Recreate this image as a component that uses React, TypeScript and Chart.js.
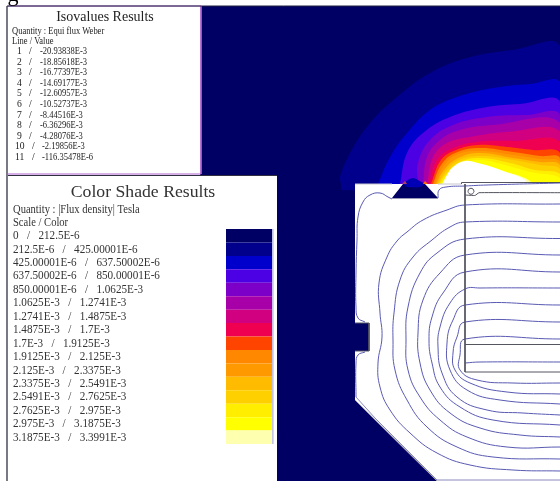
import React, { useEffect, useRef } from "react";
import { Chart, registerables } from "chart.js";

Chart.register(...registerables);

type Pt = [number, number];

const isoTitle = "Isovalues Results";
const isoHeader = ["Quantity : Equi flux Weber", "Line / Value"];
const isoLines = ["1", "2", "3", "4", "5", "6", "7", "8", "9", "10", "11"];
const isoValues = ["-20.93838E-3", "-18.85618E-3", "-16.77397E-3", "-14.69177E-3", "-12.60957E-3", "-10.52737E-3", "-8.44516E-3", "-6.36296E-3", "-4.28076E-3", "-2.19856E-3", "-116.35478E-6"];
const shadeTitle = "Color Shade Results";
const shadeHeader = ["Quantity : |Flux density| Tesla", "Scale / Color"];
const shadeRanges = ["0   /   212.5E-6", "212.5E-6   /   425.00001E-6", "425.00001E-6   /   637.50002E-6", "637.50002E-6   /   850.00001E-6", "850.00001E-6   /   1.0625E-3", "1.0625E-3   /   1.2741E-3", "1.2741E-3   /   1.4875E-3", "1.4875E-3   /   1.7E-3", "1.7E-3   /   1.9125E-3", "1.9125E-3   /   2.125E-3", "2.125E-3   /   2.3375E-3", "2.3375E-3   /   2.5491E-3", "2.5491E-3   /   2.7625E-3", "2.7625E-3   /   2.975E-3", "2.975E-3   /   3.1875E-3", "3.1875E-3   /   3.3991E-3"];
const shadeColors = ["#000064", "#00008c", "#0000cc", "#4c00e4", "#7c00c8", "#a800a8", "#d00080", "#f00050", "#ff4400", "#ff8800", "#ff9900", "#ffbb00", "#ffd000", "#ffee00", "#ffff00", "#ffffb0"];

// Upper edge of each flux-density band, from its foot on the yoke to the right-hand side
const band02: Pt[] = [[341, 184], [340, 177], [350, 153], [370, 123], [397, 97], [430, 73], [467, 58], [513, 50], [560, 47]];
const band03: Pt[] = [[378, 184], [390, 157], [407, 133], [430, 110], [457, 97], [493, 88], [530, 84], [560, 83]];
const band04: Pt[] = [[400, 184], [407, 153], [423, 133], [450, 117], [487, 107], [520, 104], [560, 102]];
const band05: Pt[] = [[418, 184], [418, 163], [430, 140], [453, 125], [487, 117], [527, 115], [560, 115]];
const band06: Pt[] = [[423, 184], [427, 157], [440, 140], [460, 130], [493, 125], [560, 123]];
const band07: Pt[] = [[427, 184], [433, 157], [447, 143], [470, 137], [507, 132], [560, 132]];
const band08: Pt[] = [[429, 184], [437, 160], [453, 148], [477, 142], [513, 141], [560, 142]];
const band09: Pt[] = [[431, 184], [441, 160], [456, 150], [478, 145], [507, 147], [533, 150], [560, 153]];
const band10: Pt[] = [[433, 184], [441, 165], [455, 153], [480, 148], [513, 152], [540, 156], [560, 158]];
const band11: Pt[] = [[434.5, 184], [443, 167], [456, 155], [480, 151], [513, 155], [540, 159], [560, 162]];
const band12: Pt[] = [[436, 184], [444, 170], [458, 158], [480, 153], [513, 158], [540, 162], [560, 165]];
const band13: Pt[] = [[437.5, 184], [446, 171], [459, 160], [480, 156], [513, 160], [540, 165], [560, 169]];
const band14: Pt[] = [[439, 184], [447, 173], [460, 162], [480, 158], [510, 163], [535, 170], [560, 174]];
const band15: Pt[] = [[441, 184], [448, 175], [462, 164], [480, 160], [505, 165], [530, 172], [560, 178]];
const band16: Pt[] = [[442, 184], [446, 177], [454, 168], [466, 162], [480, 164], [495, 168], [510, 173], [525, 178], [535, 184]];
const coreWhite: Pt[] = [[443, 184], [447, 175], [453, 167], [465, 161], [478, 163], [492, 167], [505, 172], [515, 175], [525, 180], [528, 184]];
const bandEdges = [band02, band03, band04, band05, band06, band07, band08, band09, band10, band11, band12, band13, band14, band15];

// Machine geometry
const frameOutline: Pt[] = [[355, 184], [461.5, 184], [461.5, 182], [560, 182], [560, 481], [437, 481], [355, 400], [355, 351], [369, 351], [369, 323], [355, 323]];
const frameNotch: Pt[] = [[355, 323], [369, 323], [369, 351], [355, 351]];
const frameChamfer: Pt[] = [[355, 400], [437, 481]];
const frameTop: Pt[] = [[355, 184], [392, 184]];
const frameTopB: Pt[] = [[438, 184], [461.5, 184]];
const poleSlot: Pt[] = [[392, 198], [403, 184], [425, 184], [438, 198]];
const poleBlob: Pt[] = [[403, 184], [408, 180], [413, 178], [418, 180], [424, 184], [420, 187], [407, 187]];
const coilEdgeA: Pt[] = [[461.5, 184], [461.5, 182.5], [560, 182.5]];
const coilEdgeB: Pt[] = [[465, 184], [465, 372], [560, 372]];
const coilEdgeC: Pt[] = [[465, 344.5], [560, 344.5]];
const coilHook: Pt[] = [[465, 195], [475, 195.5], [479, 192.7], [560, 192.7]];
const coilHole: Pt[] = [[474, 191.3], [473, 189], [471, 188.3], [469, 189], [468, 191.3], [469, 193.5], [471, 194.3], [473, 193.5], [474, 191.3]];

// Equi-flux lines
const iso01: Pt[] = [[560, 183], [487, 185], [465, 186], [446, 187], [439, 190], [438, 198]];
const iso01a: Pt[] = [[392, 199], [388, 197], [380, 193], [370, 195], [363, 202], [358, 217], [357, 240], [356, 273], [356, 307], [358, 318], [365, 322]];
const iso01b: Pt[] = [[365, 352], [358, 355], [356, 363], [356, 397]];
const iso01c: Pt[] = [[356, 397], [375, 418], [437, 480], [560, 480]];
const iso02: Pt[] = [[560, 204], [465, 205], [447, 210], [423, 220], [407, 232], [397, 241], [387, 257], [379, 283], [380, 313], [382, 337], [378, 363], [380, 387], [390, 410], [410, 433], [437, 453], [470, 465], [513, 470], [560, 471]];
const iso03: Pt[] = [[560, 222], [465, 222], [450, 227], [432, 240], [413, 257], [400, 280], [394, 313], [393, 340], [395, 370], [407, 400], [427, 427], [457, 447], [493, 457], [560, 459]];
const iso04: Pt[] = [[560, 238.5], [465, 239], [437, 253], [420, 273], [408, 307], [406, 340], [408, 370], [420, 397], [440, 420], [467, 437], [507, 447], [560, 447]];
const iso05: Pt[] = [[560, 255], [465, 255], [440, 273], [423, 300], [418, 333], [420, 363], [430, 390], [450, 413], [480, 428], [520, 435], [560, 437]];
const iso06: Pt[] = [[560, 272], [465, 272], [443, 293], [432, 317], [429, 340], [432, 363], [440, 387], [460, 407], [493, 420], [560, 425]];
const iso07: Pt[] = [[560, 288], [480, 288], [465, 289], [450, 303], [440, 327], [438, 347], [442, 373], [457, 397], [487, 410], [523, 413], [560, 415]];
const iso08: Pt[] = [[560, 305], [465, 305], [453, 320], [447, 343], [450, 370], [467, 390], [500, 400], [560, 404]];
const iso09: Pt[] = [[560, 322], [465, 322], [457, 337], [453, 353], [455, 370], [470, 383], [507, 392], [560, 394]];
const iso10: Pt[] = [[560, 339], [465, 339], [460, 355], [460, 370], [477, 380], [513, 383], [560, 383]];
const iso11: Pt[] = [[560, 362], [480, 362], [465, 363]];
const isoCurves = [iso01, iso01a, iso01b, iso02, iso03, iso04, iso05, iso06, iso07, iso08, iso09, iso10, iso11];

const NAVY = "#000064";
const ISO_COLOR = "#5a5ab4";
const EDGE = "#555560";

const box = (x0: number, y0: number, x1: number, y1: number): Pt[] => [[x0, y0], [x1, y0], [x1, y1], [x0, y1]];
const xy = (pts: Pt[]) => pts.map(([x, y]) => ({ x, y }));
const area = (pts: Pt[], color: string, tension = 0, border = "transparent") => ({
  type: "scatter", showLine: true, data: xy(pts), fill: "shape", backgroundColor: color,
  borderColor: border, borderWidth: border === "transparent" ? 0 : 1, pointRadius: 0, tension,
});
const stroke = (pts: Pt[], color: string, tension = 0, width = 1) => ({
  type: "scatter", showLine: true, data: xy(pts), fill: false, borderColor: color,
  borderWidth: width, pointRadius: 0, tension,
});
const band = (edge: Pt[], color: string) => area([...edge, [560, 190], [edge[0][0], 190]], color, 0.4);

const panelText = {
  id: "panelText",
  afterDatasetsDraw(chart: any) {
    const c = chart.ctx;
    const px = (v: number) => chart.scales.x.getPixelForValue(v);
    const py = (v: number) => chart.scales.y.getPixelForValue(v);
    const put = (s: string, x: number, y: number, size: number, squeeze = 1, align: CanvasTextAlign = "left", color = "#222222") => {
      c.font = `${size}px "Liberation Serif"`;
      c.textAlign = align;
      c.textBaseline = "middle";
      c.fillStyle = color;
      c.fillText(s, px(x), py(y), c.measureText(s).width * squeeze);
    };
    c.save();
    put("g", 13, -4.5, 22, 1, "center", "#000000");
    put(isoTitle, 105, 17, 14, 1, "center");
    isoHeader.forEach((s, i) => put(s, 12, 31 + i * 10.4, 9.6, 0.885));
    isoLines.forEach((s, i) => {
      const wide = s.length > 1;
      const y = 51.7 + i * 10.56;
      put(s, wide ? 15 : 17, y, 9.6);
      put("/", wide ? 32 : 29, y, 9.6);
      put(isoValues[i], wide ? 42 : 40, y, 9.6, 0.887);
    });
    put(shadeTitle, 143, 192, 17.7, 1, "center", "#333333");
    shadeHeader.forEach((s, i) => put(s, 13, 210 + i * 13, 12, 0.88, "left", "#333333"));
    shadeRanges.forEach((s, i) => put(s, 13, 236 + i * 13.44, 12, 0.93, "left", "#333333"));
    c.restore();
  },
};

export default function App() {
  const ref = useRef<HTMLCanvasElement>(null);
  useEffect(() => {
    const painted: any[] = [
      area(box(200, 6, 560, 481), NAVY),
      ...bandEdges.map((e, i) => band(e, shadeColors[i + 1])),
      band(band16, shadeColors[15]),
      band(coreWhite, "#ffffff"),
      area(frameOutline, "#ffffff"),
      stroke(frameTop, "#c8c8d0"),
      stroke(frameTopB, "#c8c8d0"),
      stroke(frameNotch, EDGE),
      stroke(frameChamfer, "#9a9aa4"),
      area(poleSlot, NAVY),
      stroke([[392, 198.5], [438, 198.5]], "#9a9ab8"),
      area(poleBlob, "#0000b4", 0.3),
      area([[402, 184], [405, 181], [407, 184]], "#b04060"),
      area([[423, 184], [425, 181], [428, 184]], "#ff7000"),
      ...isoCurves.map((p) => stroke(p, ISO_COLOR, 0.45)),
      stroke(iso01c, "#8a8ac0"),
      stroke(coilEdgeA, EDGE),
      stroke(coilEdgeB, EDGE),
      stroke(coilEdgeC, EDGE),
      stroke(coilHook, EDGE, 0.1),
      stroke(coilHole, EDGE, 0.3),
      area(box(8, 6, 201, 174), "#ffffff", 0, "#b060d0"),
      stroke([[7, 6], [7, 481]], "#202030", 0, 1.2),
      stroke([[7, 6], [560, 6]], "#202040"),
      area(box(8, 176, 277, 481), "#ffffff"),
      stroke([[8, 175.5], [277, 175.5]], "#303040"),
      ...shadeColors.map((col, i) => area(box(226, 229 + i * 13.44, 272.5, 229 + (i + 1) * 13.44), col)),
      stroke([[272.8, 229], [272.8, 444]], "#c4c4e4"),
    ];
    const chart = new Chart(ref.current!, {
      type: "scatter",
      data: { datasets: painted.reverse() },
      plugins: [panelText],
      options: {
        animation: false,
        responsive: false,
        devicePixelRatio: 1,
        layout: { padding: 0 },
        plugins: { legend: { display: false }, tooltip: { enabled: false } },
        scales: {
          x: { type: "linear", min: 0, max: 560, display: false },
          y: { type: "linear", min: 0, max: 481, reverse: true, display: false },
        },
      },
    } as any);
    return () => chart.destroy();
  }, []);
  return (
    <canvas
      ref={ref}
      width={560}
      height={481}
      style={{ position: "fixed", left: 0, top: 0, width: 560, height: 481, filter: "blur(0.3px)" }}
    />
  );
}
